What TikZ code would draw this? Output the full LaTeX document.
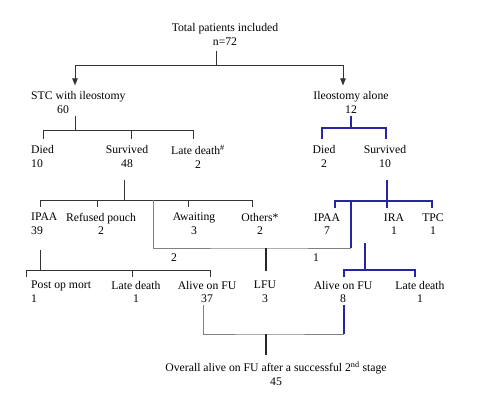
\documentclass[tikz,border=0pt]{standalone}
\usepackage{fontspec}
\setmainfont{Liberation Serif}
\usetikzlibrary{arrows.meta}

\definecolor{stageblue}{RGB}{38,38,165}
\definecolor{stagegray}{RGB}{128,128,128}

\tikzset{
  box/.style={align=center, inner sep=0pt, font=\fontsize{11.7}{13.7}\selectfont},
  lbox/.style={box, align=left, anchor=west},
  link/.style={line width=0.8pt, black!80},
  bluelink/.style={line width=1.3pt, stageblue},
  graylink/.style={line width=1pt, stagegray},
  mainlink/.style={line width=2.2pt, black!85},
  tip/.style={-{Triangle[length=7pt,width=5.5pt]}, shorten >=6pt},
}

\begin{document}
\begin{tikzpicture}[x=1pt,y=-1pt]
\useasboundingbox (0,0) rectangle (478,412);

% level 0-1
\node[box] (total) at (225,34.5) {Total patients included\\n=72};
\node[lbox] (stc) at (31,102.5) {STC with ileostomy\\\hspace*{26pt}60};
\node[box] (ileo) at (351,102.5) {Ileostomy alone\\12};

% level 2
\node[lbox] (diedA) at (31,156.5) {Died\\10};
\node[box] (survA) at (127,156.5) {Survived\\48};
\node[box] (lateA) at (198,156.5) {Late death\textsuperscript{\#}\\2};
\node[box] (diedB) at (324,156.5) {Died\\2};
\node[box] (survB) at (385,156.5) {Survived\\10};

% level 3
\node[lbox] (ipaaA) at (31,224) {IPAA\\39};
\node[box] (refused) at (101,224) {Refused pouch\\2};
\node[box] (await) at (194,224) {Awaiting\\3};
\node[box] (others) at (260,224) {Others*\\2};
\node[box] (ipaaB) at (327,224) {IPAA\\7};
\node[box] (ira) at (394,224) {IRA\\1};
\node[box] (tpc) at (433,224) {TPC\\1};
\node[box] (lfuA) at (174,258) {2};
\node[box] (lfuB) at (316,258) {1};

% level 4
\node[lbox] (mort) at (31,292) {Post op mort\\1};
\node[box] (lateB) at (136,292) {Late death\\1};
\node[box] (aliveA) at (207,292) {Alive on FU\\37};
\node[box] (lfu) at (265,292) {LFU\\3};
\node[box] (aliveB) at (343,292) {Alive on FU\\8};
\node[box] (lateC) at (420,292) {Late death\\1};

\node[box] (overall) at (276,373.5) {Overall alive on FU after a successful 2\textsuperscript{nd} stage\\45};

% split points
\coordinate (top) at (216,65);
\coordinate (stcIn) at (75,65);
\coordinate (ileoIn) at (343,65);
\coordinate (stcJ) at (75,130);
\coordinate (ileoJ) at (351,128);
\coordinate (survAJ) at (124,200);
\coordinate (survBJ) at (387,201);
\coordinate (ipaaAJ) at (40,270);
\coordinate (lfuJ) at (266,248);
\coordinate (ipaaBJ) at (365,270);
\coordinate (fuJ) at (266,334);

% total
\draw[link] (top |- total.south) ++(0,5) -- (top);
\draw[link,tip] (top) -| (stc.north -| stcIn);
\draw[link,tip] (top) -| (ileo.north -| ileoIn);

% STC with ileostomy
\draw[link] (stcJ |- stc.south) ++(0,2) -- (stcJ);
\draw[link] (stcJ) ++(-32,9) -- ++(0,-9) -- ++(150,0) -- ++(0,9);
\draw[link] (stcJ) ++(56,0) -- ++(0,9);

% ileostomy alone
\draw[bluelink] (ileoJ |- ileo.south) ++(0,2) -- (ileoJ);
\draw[bluelink] (ileoJ) ++(-29,11) -- ++(0,-11) -- ++(64,0) -- ++(0,11);

% survived after STC
\draw[link] (survAJ |- survA.south) ++(0,12) -- (survAJ);
\draw[link] (survAJ) ++(-84,7) -- ++(0,-7) -- ++(212,0) -- ++(0,7);
\draw[link] (survAJ) ++(-27,0) -- ++(0,7);
\draw[link] (survAJ) ++(64,0) -- ++(0,7);
\draw[graylink] (survAJ) ++(29,0) |- (lfuJ) -- ++(85,0);

% survived after ileostomy
\draw[bluelink] (survBJ |- survB.south) ++(0,12) -- (survBJ) -- ++(0,7);
\draw[bluelink] (survBJ) ++(-52,7) -- ++(0,-7) -- ++(97,0) -- ++(0,7);
\draw[bluelink] (survBJ) ++(-36,0) -- ++(0,47);
\draw[bluelink] (ipaaBJ) ++(0,-27) -- (ipaaBJ);
\draw[bluelink] (ipaaBJ) ++(-21,7) -- ++(0,-7) -- ++(71,0) -- ++(0,7);

% IPAA after STC
\draw[link] (ipaaAJ |- ipaaA.south) ++(0,15) -- (ipaaAJ);
\draw[link] (ipaaAJ) ++(-14,7) -- ++(0,-7) -- ++(184,0) -- ++(0,7);
\draw[link] (ipaaAJ) ++(92,0) -- ++(0,7);

% lost to follow up
\draw[mainlink] (lfuJ) -- ++(0,23);

% overall
\draw[graylink] (fuJ) ++(-63,-29) |- (fuJ) -- ++(78,0);
\draw[bluelink] (fuJ) ++(78,0) -- ++(0,-29);
\draw[mainlink] (fuJ) -- ++(0,21);

\end{tikzpicture}
\end{document}
